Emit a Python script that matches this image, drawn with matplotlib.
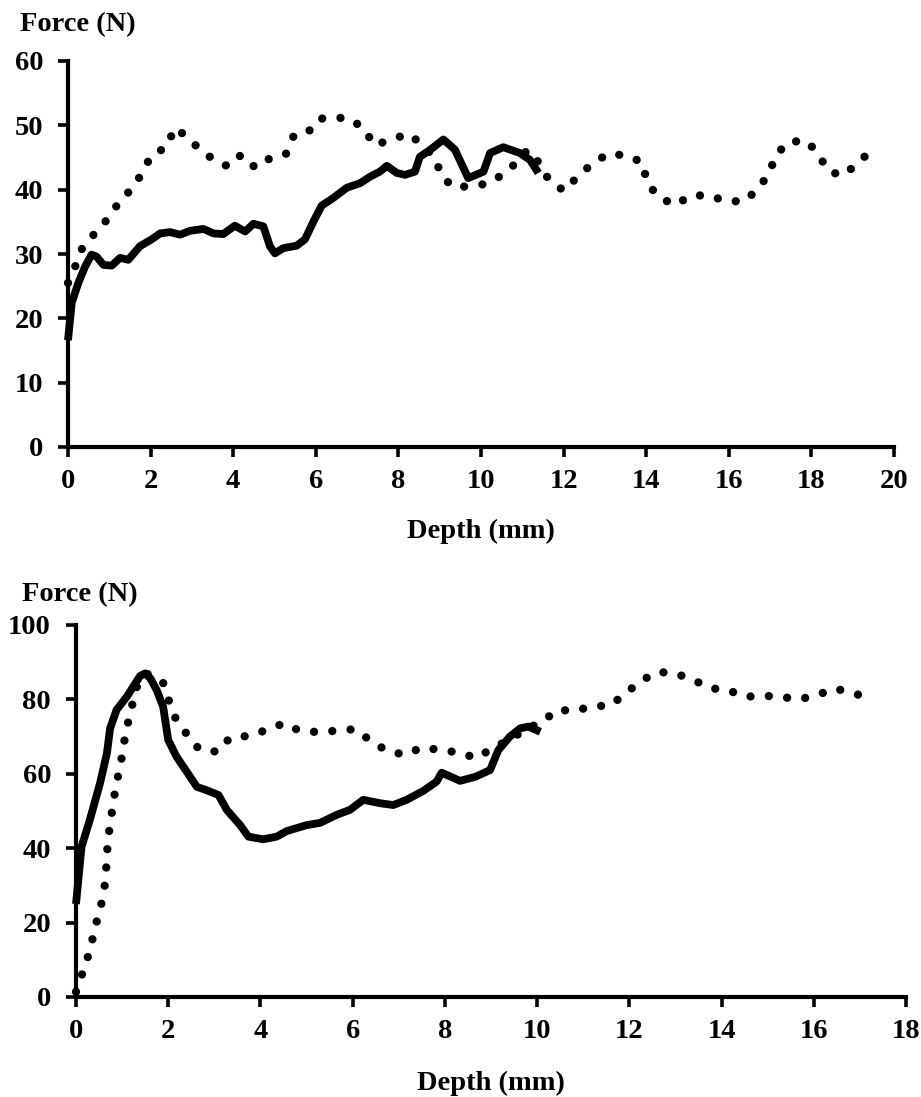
import matplotlib.pyplot as plt

# top panel: solid curve
top_solid_x = [0.0, 0.09, 0.25, 0.41, 0.57, 0.69, 0.86, 1.06, 1.26, 1.46, 1.74, 2.03, 2.23,
               2.47, 2.71, 2.95, 3.28, 3.52, 3.76, 4.04, 4.29, 4.49, 4.73, 4.89, 5.01, 5.21,
               5.54, 5.74, 5.94, 6.14, 6.42, 6.75, 7.07, 7.31, 7.55, 7.72, 7.96, 8.16, 8.40,
               8.52, 8.77, 9.09, 9.37, 9.69, 10.06, 10.22, 10.54, 10.94, 11.19, 11.39]
top_solid_y = [16.6, 22.4, 25.5, 28.0, 29.9, 29.6, 28.3, 28.2, 29.4, 29.1, 31.2, 32.3, 33.2,
               33.4, 33.0, 33.6, 33.9, 33.2, 33.1, 34.4, 33.5, 34.7, 34.3, 31.2, 30.1, 30.9,
               31.3, 32.3, 35.0, 37.5, 38.7, 40.3, 41.0, 42.0, 42.8, 43.7, 42.6, 42.3, 42.8,
               45.1, 46.2, 47.8, 46.2, 41.8, 42.8, 45.7, 46.6, 45.7, 44.6, 42.6]

# top panel: dotted curve
top_dot_x = [0.0, 0.19, 0.36, 0.68, 0.98, 1.24, 1.54, 1.81, 2.01, 2.41, 2.57, 2.90, 3.22,
             3.58, 3.88, 4.19, 4.54, 4.92, 5.28, 5.46, 5.80, 6.06, 6.42, 6.80, 7.17, 7.41,
             7.84, 8.24, 8.56, 8.89, 9.05, 9.36, 10.14, 10.52, 10.84, 11.13, 11.43, 11.65,
             12.02, 12.33, 12.69, 13.08, 13.53, 13.92, 14.01, 14.29, 14.70, 15.08, 15.51,
             15.95, 16.38, 16.72, 16.98, 17.14, 17.46, 17.91, 18.18, 18.43, 18.77, 19.10, 19.40]
top_dot_y = [25.5, 28.3, 31.2, 33.4, 35.6, 38.1, 40.1, 42.7, 45.3, 46.7, 49.6, 48.2, 46.0,
             44.5, 43.6, 45.4, 43.4, 45.0, 45.6, 48.3, 48.8, 51.0, 51.2, 51.1, 49.5, 46.9,
             47.8, 48.7, 47.1, 44.9, 42.0, 40.3, 40.9, 42.3, 44.1, 46.2, 44.0, 41.4,
             39.8, 42.0, 44.0, 45.6, 45.3, 44.2, 41.2, 38.9, 37.6, 39.1, 39.1,
             38.2, 38.2, 40.2, 42.6, 45.4, 47.5, 47.5, 45.3, 42.8, 42.2, 44.0, 45.8]

# bottom panel: solid curve
bot_solid_x = [0.0, 0.12, 0.30, 0.52, 0.67, 0.74, 0.88, 1.10, 1.24, 1.39, 1.50, 1.61, 1.75,
               1.89, 2.00, 2.18, 2.40, 2.62, 2.83, 3.09, 3.27, 3.56, 3.74, 4.06, 4.35, 4.57,
               5.00, 5.29, 5.66, 5.94, 6.23, 6.59, 6.88, 7.17, 7.53, 7.82, 7.93, 8.33, 8.66,
               8.98, 9.16, 9.41, 9.63, 9.81, 10.07]
bot_solid_y = [25.0, 40.4, 47.6, 57.4, 65.5, 72.2, 77.2, 80.7, 83.4, 86.3, 87.0, 85.7, 82.5,
               78.0, 69.1, 64.6, 60.6, 56.5, 55.6, 54.3, 50.3, 46.2, 43.1, 42.4, 43.1, 44.6,
               46.2, 46.8, 49.0, 50.3, 53.0, 52.1, 51.6, 53.0, 55.4, 57.9, 60.3, 58.1, 59.2,
               61.0, 66.4, 70.0, 72.2, 72.7, 71.3]

# bottom panel: dotted curve
bot_dot_x = [0.0, 0.14, 0.27, 0.37, 0.47, 0.58, 0.64, 0.69, 0.75, 0.81, 0.88, 0.97, 1.03,
             1.11, 1.21, 1.30, 1.52, 1.88, 2.01, 2.16, 2.40, 2.67, 3.07, 3.34, 3.75, 4.14,
             4.51, 4.84, 5.26, 5.66, 6.05, 6.39, 6.74, 7.14, 7.50, 7.90, 8.31, 8.69, 9.03,
             9.40, 9.78, 10.12, 10.43, 10.81, 11.21, 11.58, 11.91, 12.23, 12.61, 12.98,
             13.37, 13.74, 14.12, 14.51, 14.92, 15.33, 15.69, 16.07, 16.46, 16.84, 17.23]
bot_dot_y = [1.4, 6.4, 11.3, 16.2, 21.4, 26.4, 31.5, 42.0, 47.3, 52.5, 57.6, 62.6, 67.7,
             72.8, 78.0, 83.0, 87.0, 84.8, 79.8, 74.9, 70.7, 66.6, 65.9, 69.7, 70.2, 71.8,
             73.6, 71.6, 71.2, 71.6, 72.0, 68.9, 66.2, 65.1, 67.1, 66.4, 65.7, 64.2, 66.9,
             69.1, 72.2, 74.0, 77.2, 76.9, 78.2, 78.3, 81.5, 84.8, 87.4, 87.0,
             85.4, 83.0, 82.6, 80.7, 81.0, 80.6, 80.0, 81.2, 82.9, 81.8, 80.1]

plt.rcParams["font.family"] = ["Liberation Serif", "DejaVu Serif"]
plt.rcParams["font.weight"] = "bold"
plt.rcParams["font.size"] = 20.5

W, H = 921, 1097
fig = plt.figure(figsize=(W / 100, H / 100), dpi=100)


def px_axes(left, right, top, bottom):
    return fig.add_axes([left / W, 1 - bottom / H, (right - left) / W, (bottom - top) / H])


ax1 = px_axes(68, 894, 61, 447)
ax2 = px_axes(76, 906, 625, 997)

dot_style = dict(color="black", lw=6.0, linestyle=(0, (0.001, 2.2)),
                 dash_capstyle="round", clip_on=False)
solid_style = dict(color="black", lw=5.6, solid_joinstyle="round",
                   solid_capstyle="butt", clip_on=False)

ax1.plot(top_solid_x, top_solid_y, **solid_style)
ax1.plot(top_dot_x, top_dot_y, **dot_style)
ax2.plot(bot_solid_x, bot_solid_y, **solid_style)
ax2.plot(bot_dot_x, bot_dot_y, **dot_style)

for ax, xmax, ymax, ystep in [(ax1, 20, 60, 10), (ax2, 18, 100, 20)]:
    ax.set_xlim(0, xmax)
    ax.set_ylim(0, ymax)
    ax.set_xticks(range(0, xmax + 1, 2))
    ax.set_yticks(range(0, ymax + 1, ystep))
    for s in ["top", "right"]:
        ax.spines[s].set_visible(False)
    for s in ["left", "bottom"]:
        ax.spines[s].set_linewidth(3.0)
    ax.tick_params(axis="both", direction="out", length=7, width=2.6, labelsize=20.5)
    ax.tick_params(axis="x", pad=9)
    ax.tick_params(axis="y", pad=11)
    ax.set_facecolor("none")

fig.text(20 / W, 1 - 25 / H, "Force (N)", ha="left", va="center", fontsize=20.5, fontweight="bold")
fig.text(22 / W, 1 - 595 / H, "Force (N)", ha="left", va="center", fontsize=20.5, fontweight="bold")
fig.text(481 / W, 1 - 531 / H, "Depth (mm)", ha="center", va="center", fontsize=20.5, fontweight="bold")
fig.text(491 / W, 1 - 1083 / H, "Depth (mm)", ha="center", va="center", fontsize=20.5, fontweight="bold")

fig.savefig("out.png", dpi=100)
